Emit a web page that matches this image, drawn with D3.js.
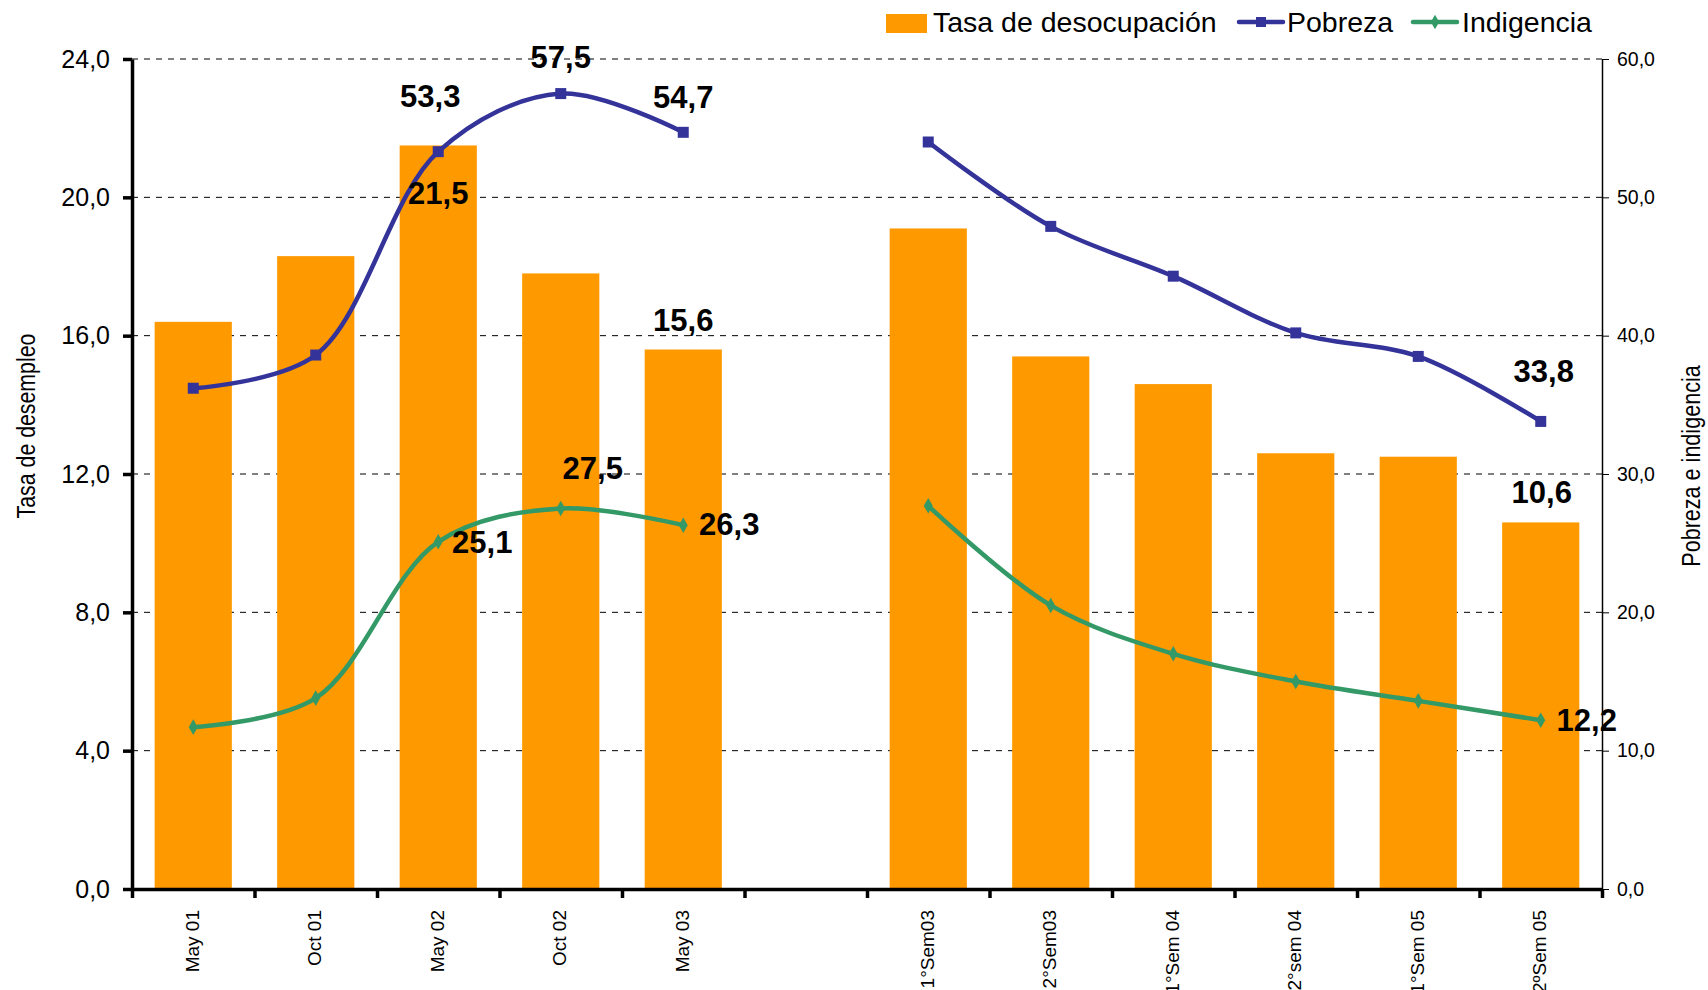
<!DOCTYPE html>
<html>
<head>
<meta charset="utf-8">
<script src="https://cdn.jsdelivr.net/npm/d3@7"></script>
<style>
	body { margin: 0; background: #fff; }
	svg { display: block; font-family: "Liberation Sans", Arial, sans-serif; }
</style>
</head>
<body>
<div class="chart"></div>
<script>
var categories = ['May 01', 'Oct 01', 'May 02', 'Oct 02', 'May 03', '',
	'1°Sem03', '2°Sem03', '1°Sem 04', '2°sem 04', '1°Sem 05', '2ºSem 05'];

var desocupacion = [16.4, 18.3, 21.5, 17.8, 15.6, null, 19.1, 15.4, 14.6, 12.6, 12.5, 10.6];

var pobreza = [36.2, 38.6, 53.3, 57.5, 54.7, null, 54.0, 47.9, 44.3, 40.2, 38.5, 33.8];

var indigencia = [11.7, 13.8, 25.1, 27.5, 26.3, null, 27.7, 20.5, 17.0, 15.0, 13.6, 12.2];

var leftTicks = [0, 4, 8, 12, 16, 20, 24];

var rightTicks = [0, 10, 20, 30, 40, 50, 60];

// which points get a value label
var desocLabels = [2, 4, 11];
var pobrezaLabels = [2, 3, 4, 11];
var indigLabels = [2, 3, 4, 11];

var width = 1708, height = 990;
var plotLeft = 132, plotRight = 1602, plotTop = 59, plotBottom = 889;

var orange = '#FF9900', blue = '#333399', green = '#339966';

function fmt(v) {
	return d3.format('.1f')(v).replace('.', ',');
}

var svg = d3.select('.chart')
	.append('svg')
		.attr('width', width)
		.attr('height', height);

var x = d3.scaleBand()
	.domain(d3.range(categories.length))
	.range([plotLeft, plotRight])
	.paddingInner(0.37)
	.paddingOuter(0.185);

var xEdges = d3.scaleLinear()
	.domain([0, categories.length])
	.range([plotLeft, plotRight]);

var yLeft = d3.scaleLinear().domain([0, 24]).range([plotBottom, plotTop]);
var yRight = d3.scaleLinear().domain([0, 60]).range([plotBottom, plotTop]);

function cx(i) { return x(i) + x.bandwidth() / 2; }

function points(values) {
	return values.map(function(d, i) { return {v: d, i: i}; })
		.filter(function(p) { return p.v != null; });
}

//dashed gridlines
svg.append('g')
	.selectAll('line')
	.data(leftTicks.slice(1))
	.enter()
		.append('line')
			.attr('x1', plotLeft)
			.attr('x2', plotRight)
			.attr('y1', function(d) { return yLeft(d); })
			.attr('y2', function(d) { return yLeft(d); })
			.attr('stroke', '#000')
			.attr('stroke-width', 1)
			.attr('stroke-dasharray', '6,6');

//bars
svg.append('g')
	.selectAll('rect')
	.data(points(desocupacion))
	.enter()
		.append('rect')
			.attr('x', function(p) { return x(p.i); })
			.attr('width', x.bandwidth())
			.attr('y', function(p) { return yLeft(p.v); })
			.attr('height', function(p) { return plotBottom - yLeft(p.v); })
			.attr('fill', orange);

//lines
function drawSeries(values, color, marker) {
	var line = d3.line()
		.defined(function(d) { return d != null; })
		.x(function(d, i) { return cx(i); })
		.y(function(d) { return yRight(d); })
		.curve(d3.curveCatmullRom.alpha(0.5));
	svg.append('path')
		.datum(values)
		.attr('d', line)
		.attr('fill', 'none')
		.attr('stroke', color)
		.attr('stroke-width', 4.5);
	svg.append('g')
		.selectAll('path')
		.data(points(values))
		.enter()
			.append('path')
				.attr('d', d3.symbol().type(marker).size(marker === d3.symbolSquare ? 121 : 70))
				.attr('transform', function(p) {
					return 'translate(' + cx(p.i) + ',' + yRight(p.v) + ')';
				})
				.attr('fill', color);
}
drawSeries(pobreza, blue, d3.symbolSquare);
drawSeries(indigencia, green, d3.symbolDiamond);

//x axis: ticks at band edges
svg.append('g')
	.attr('transform', 'translate(0,' + plotBottom + ')')
	.call(d3.axisBottom(xEdges)
		.tickValues(d3.range(categories.length + 1))
		.tickSize(9)
		.tickSizeOuter(0)
		.tickFormat(''))
	.call(function(g) {
		g.select('.domain').attr('stroke-width', 3.5);
		g.selectAll('.tick line').attr('stroke-width', 3.5);
	});

svg.append('g')
	.selectAll('text')
	.data(categories)
	.enter()
		.append('text')
			.attr('transform', function(d, i) {
				return 'translate(' + cx(i) + ',910) rotate(-90)';
			})
			.attr('dy', '0.3em')
			.attr('text-anchor', 'end')
			.attr('font-size', '19px')
			.text(function(d) { return d; });

//left axis
svg.append('g')
	.attr('transform', 'translate(' + plotLeft + ',0)')
	.call(d3.axisLeft(yLeft)
		.tickValues(leftTicks)
		.tickSize(9)
		.tickSizeOuter(0)
		.tickPadding(13)
		.tickFormat(fmt))
	.call(function(g) {
		g.select('.domain').attr('stroke-width', 3.5);
		g.selectAll('.tick line').attr('stroke-width', 3.5);
		g.selectAll('.tick text')
			.attr('font-size', '25px')
			.attr('font-family', '"Liberation Sans", Arial, sans-serif');
	});

//right axis
svg.append('g')
	.attr('transform', 'translate(' + plotRight + ',0)')
	.call(d3.axisRight(yRight)
		.tickValues(rightTicks)
		.tickSize(7)
		.tickSizeOuter(0)
		.tickPadding(8)
		.tickFormat(fmt))
	.call(function(g) {
		g.select('.domain').attr('stroke-width', 1.5);
		g.selectAll('.tick text')
			.attr('font-size', '19.5px')
			.attr('font-family', '"Liberation Sans", Arial, sans-serif');
	});

//axis titles, squeezed to look like a narrow face
svg.append('text')
	.attr('transform', 'translate(35,426) rotate(-90) scale(0.82,1)')
	.attr('text-anchor', 'middle')
	.attr('font-size', '26px')
	.text('Tasa de desempleo');

svg.append('text')
	.attr('transform', 'translate(1700,466) rotate(-90) scale(0.83,1)')
	.attr('text-anchor', 'middle')
	.attr('font-size', '26px')
	.text('Pobreza e indigencia');

//value labels, offsets from the point they belong to
var offsets = {
	desoc: {2: [0, 58.5], 4: [0, -18.5], 11: [1, -19.5]},
	pobreza: {2: [-8, -45], 3: [0, -26], 4: [0, -24], 11: [3, -39]},
	indig: {2: [44, 11], 3: [32, -30], 4: [46, 10], 11: [46, 11]}
};

function addLabels(idx, values, yScale, off) {
	svg.append('g')
		.selectAll('text')
		.data(idx)
		.enter()
			.append('text')
				.attr('x', function(i) { return cx(i) + off[i][0]; })
				.attr('y', function(i) { return yScale(values[i]) + off[i][1]; })
				.attr('text-anchor', 'middle')
				.attr('font-size', '31px')
				.attr('font-weight', 'bold')
				.text(function(i) { return fmt(values[i]); });
}
addLabels(desocLabels, desocupacion, yLeft, offsets.desoc);
addLabels(pobrezaLabels, pobreza, yRight, offsets.pobreza);
addLabels(indigLabels, indigencia, yRight, offsets.indig);

//legend
var legend = svg.append('g').attr('font-size', '28.5px');
legend.append('rect')
	.attr('x', 886).attr('y', 14)
	.attr('width', 41).attr('height', 19)
	.attr('fill', orange);
legend.append('text').attr('x', 933).attr('y', 32).text('Tasa de desocupación');

var legendLines = [
	{x: 1239, tx: 1287, color: blue, marker: d3.symbolSquare, name: 'Pobreza'},
	{x: 1413, tx: 1462, color: green, marker: d3.symbolDiamond, name: 'Indigencia'}
];
legendLines.forEach(function(l) {
	legend.append('line')
		.attr('x1', l.x).attr('x2', l.x + 44)
		.attr('y1', 22).attr('y2', 22)
		.attr('stroke', l.color)
		.attr('stroke-width', 4.5)
		.attr('stroke-linecap', 'round');
	legend.append('path')
		.attr('d', d3.symbol().type(l.marker).size(l.marker === d3.symbolSquare ? 100 : 60))
		.attr('transform', 'translate(' + (l.x + 22) + ',22)')
		.attr('fill', l.color);
	legend.append('text').attr('x', l.tx).attr('y', 32).text(l.name);
});
</script>
</body>
</html>
